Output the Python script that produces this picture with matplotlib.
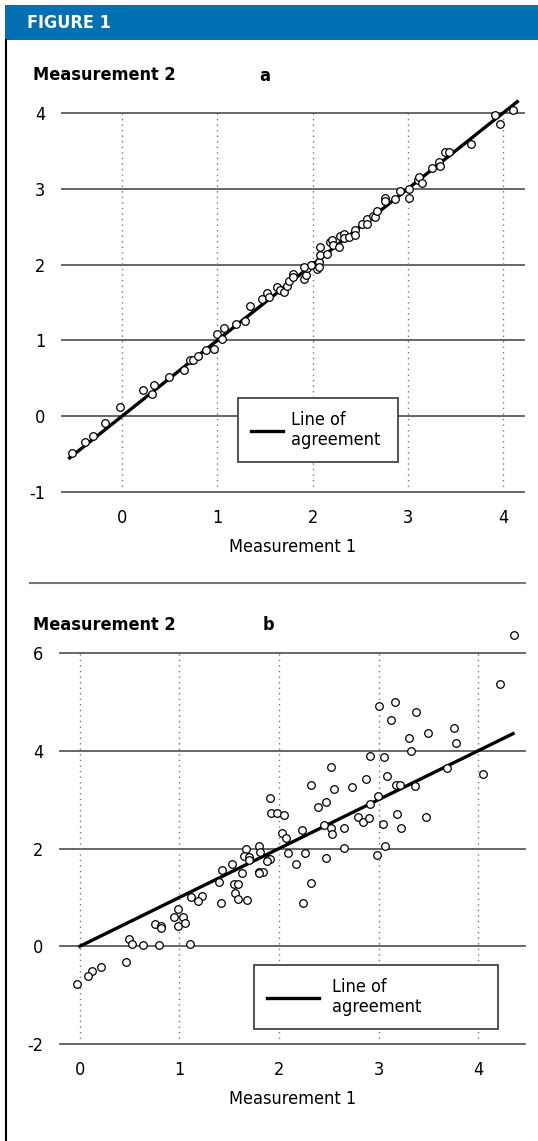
import matplotlib
matplotlib.use('Agg')
import matplotlib.pyplot as plt
from matplotlib.patches import Rectangle
from matplotlib.lines import Line2D

plt.rcParams['font.family'] = ['Liberation Sans Narrow', 'DejaVu Sans']
plt.rcParams['font.stretch'] = 'condensed'

# Panel a: close agreement
a_x = [-0.52, -0.39, -0.30, -0.18, -0.02, 0.22, 0.31, 0.34, 0.49, 0.65, 0.71, 0.75,
       0.80, 0.88, 0.97, 1.00, 1.05, 1.07, 1.20, 1.29, 1.34, 1.47, 1.52, 1.54, 1.63,
       1.66, 1.70, 1.73, 1.75, 1.80, 1.80, 1.91, 1.93, 1.94, 1.99, 2.05, 1.98, 1.91,
       2.07, 2.07, 2.08, 2.08, 2.15, 2.18, 2.20, 2.21, 2.28, 2.29, 2.33, 2.33, 2.38,
       2.45, 2.45, 2.52, 2.57, 2.57, 2.63, 2.66, 2.68, 2.76, 2.76, 2.87, 2.92, 3.01,
       3.01, 3.11, 3.12, 3.15, 3.25, 3.33, 3.34, 3.39, 3.43, 3.66, 3.92, 3.97, 4.10]
a_y = [-0.49, -0.34, -0.26, -0.09, 0.12, 0.34, 0.29, 0.41, 0.52, 0.61, 0.74, 0.74,
       0.80, 0.87, 0.88, 1.09, 1.02, 1.17, 1.21, 1.25, 1.46, 1.55, 1.62, 1.57, 1.70,
       1.67, 1.64, 1.72, 1.79, 1.88, 1.83, 1.81, 1.86, 1.96, 2.00, 1.94, 2.00, 1.97,
       2.03, 1.97, 2.23, 2.13, 2.14, 2.30, 2.32, 2.26, 2.23, 2.38, 2.40, 2.35, 2.36,
       2.46, 2.39, 2.54, 2.60, 2.54, 2.64, 2.63, 2.71, 2.88, 2.84, 2.86, 2.97, 3.00,
       2.88, 3.11, 3.16, 3.08, 3.27, 3.36, 3.30, 3.48, 3.49, 3.59, 3.98, 3.85, 4.04]

# Panel b: poor agreement
b_x = [4.36, 4.22, 3.00, 3.16, 3.38, 3.12, 3.76, 3.50, 3.31, 3.78, 3.33, 2.91, 3.05,
       4.05, 3.69, 2.52, 2.87, 3.08, 2.32, 2.55, 2.73, 3.17, 3.21, 3.37,
       1.91, 1.92, 1.98, 2.05, 2.39, 2.47, 2.99, 2.91, 3.48, 2.79, 2.84, 2.90, 3.18,
       3.04, 3.22, 2.45, 2.52, 2.53, 2.65, 2.23, 2.03, 2.07, 2.65, 3.06, 2.98, 2.09,
       2.26, 2.47, 2.17, 2.32, 2.24, 1.80, 1.81, 1.67, 1.65, 1.70, 1.70, 1.89, 1.91,
       1.88, 1.53, 1.43, 1.63, 1.80, 1.84, 1.80, 1.40, 1.55, 1.59, 1.56, 1.59, 1.68,
       1.42, 1.12, 1.23, 1.19, 0.99, 0.94, 1.04, 0.99, 1.06, 0.75, 0.81, 0.81, 1.11,
       0.49, 0.52, 0.63, 0.79, 0.46, 0.21, 0.12, 0.08, -0.03]
b_y = [6.37, 5.36, 4.92, 4.99, 4.80, 4.62, 4.47, 4.36, 4.26, 4.15, 4.00, 3.90, 3.88,
       3.52, 3.64, 3.67, 3.42, 3.49, 3.30, 3.22, 3.25, 3.30, 3.30, 3.28,
       3.03, 2.73, 2.72, 2.68, 2.84, 2.96, 3.07, 2.92, 2.64, 2.65, 2.55, 2.62, 2.70,
       2.51, 2.42, 2.49, 2.41, 2.30, 2.42, 2.38, 2.32, 2.22, 2.01, 2.05, 1.86, 1.90,
       1.91, 1.81, 1.69, 1.30, 0.89, 2.05, 1.93, 1.98, 1.84, 1.83, 1.76, 1.78, 1.79,
       1.75, 1.68, 1.57, 1.50, 1.52, 1.52, 1.49, 1.32, 1.27, 1.27, 1.08, 0.96, 0.94,
       0.89, 1.00, 1.03, 0.93, 0.77, 0.59, 0.60, 0.42, 0.48, 0.46, 0.42, 0.38, 0.05,
       0.14, 0.04, 0.02, 0.03, -0.32, -0.43, -0.51, -0.61, -0.77]

a_line = [-0.55, 4.15]
b_line = [0.0, 4.35]

a_xticks = [0, 1, 2, 3, 4]
a_yticks = [-1, 0, 1, 2, 3, 4]
b_xticks = [0, 1, 2, 3, 4]
b_yticks = [-2, 0, 2, 4, 6]

W, H = 538, 1141
fig = plt.figure(figsize=(W / 100, H / 100), dpi=100)


def px_axes(x0, y0, x1, y1):
    # pixel box (top-left origin) -> figure axes
    return fig.add_axes([x0 / W, 1 - y1 / H, (x1 - x0) / W, (y1 - y0) / H])


def px_anchor(x0, y0, w):
    # zero-height anchor whose top-left is at pixel (x0, y0)
    return (x0 / W, 1 - y0 / H, w / W, 0)


# header bar and left rule
fig.patches.append(Rectangle((5 / W, 1 - 40 / H), 1, 35 / H, transform=fig.transFigure,
                             facecolor='#0070b2', edgecolor='none'))
fig.text(27 / W, 1 - 23 / H, 'FIGURE 1', color='white', fontsize=13, fontweight='bold',
         va='center', ha='left')
fig.add_artist(Line2D([6 / W, 6 / W], [0, 1 - 40 / H], color='black', lw=1.5,
                      transform=fig.transFigure))
# separator between the panels
fig.add_artist(Line2D([30 / W, 525 / W], [1 - 583 / H, 1 - 583 / H], color='#777777',
                      lw=1.5, transform=fig.transFigure))


def draw_panel(ax, xs, ys, line, xlim, ylim, xticks, yticks):
    ax.set_xlim(*xlim)
    ax.set_ylim(*ylim)
    for s in ax.spines.values():
        s.set_visible(False)
    for yt in yticks:
        ax.axhline(yt, color='#5a5a5a', lw=1.3, zorder=1, clip_on=False)
    ax.vlines(xticks, ylim[0], ylim[1], colors='#777777', lw=1.0,
              linestyles=(0, (1, 3)), zorder=1)
    ax.set_xticks(xticks)
    ax.set_yticks(yticks)
    ax.set_xticklabels([str(t) for t in xticks])
    ax.set_yticklabels([str(t) for t in yticks])
    ax.tick_params(length=0, labelsize=13)
    ax.tick_params(axis='x', pad=12)
    ax.tick_params(axis='y', pad=12)
    ax.plot(line, line, color='black', lw=2.4, zorder=3, clip_on=False,
            label='Line of\nagreement')
    ax.scatter(xs, ys, s=30, facecolor='white', edgecolor='black', linewidth=0.9,
               zorder=4, clip_on=False)
    ax.set_xlabel('Measurement 1', fontsize=13, labelpad=8)
    ax.set_facecolor('none')


# panel a
ax_a = px_axes(62, 113, 524, 492)
draw_panel(ax_a, a_x, a_y, a_line, (-0.63, 4.22), (-1, 4), a_xticks, a_yticks)
fig.text(33 / W, 1 - 75 / H, 'Measurement 2', fontsize=13, fontweight='bold', va='center')
fig.text(265 / W, 1 - 76 / H, 'a', fontsize=13, fontweight='bold', va='center', ha='center')
leg_a = ax_a.legend(loc='upper left', bbox_to_anchor=px_anchor(238, 398, 160),
                    bbox_transform=fig.transFigure, mode='expand', fontsize=13,
                    borderaxespad=0, handlelength=1.8, handletextpad=0.45,
                    borderpad=0.7, fancybox=False, framealpha=1, edgecolor='#444444')
leg_a.get_frame().set_linewidth(1.3)

# panel b
ax_b = px_axes(60, 653, 525, 1044)
draw_panel(ax_b, b_x, b_y, b_line, (-0.2, 4.47), (-2, 6), b_xticks, b_yticks)
fig.text(33 / W, 1 - 625 / H, 'Measurement 2', fontsize=13, fontweight='bold', va='center')
fig.text(268 / W, 1 - 625 / H, 'b', fontsize=13, fontweight='bold', va='center', ha='center')
leg_b = ax_b.legend(loc='upper left', bbox_to_anchor=px_anchor(254, 965, 244),
                    bbox_transform=fig.transFigure, mode='expand', fontsize=13,
                    borderaxespad=0, handlelength=2.9, handletextpad=0.7,
                    borderpad=0.7, fancybox=False, framealpha=1, edgecolor='#444444')
leg_b.get_frame().set_linewidth(1.3)

fig.savefig('out.png', dpi=100)
